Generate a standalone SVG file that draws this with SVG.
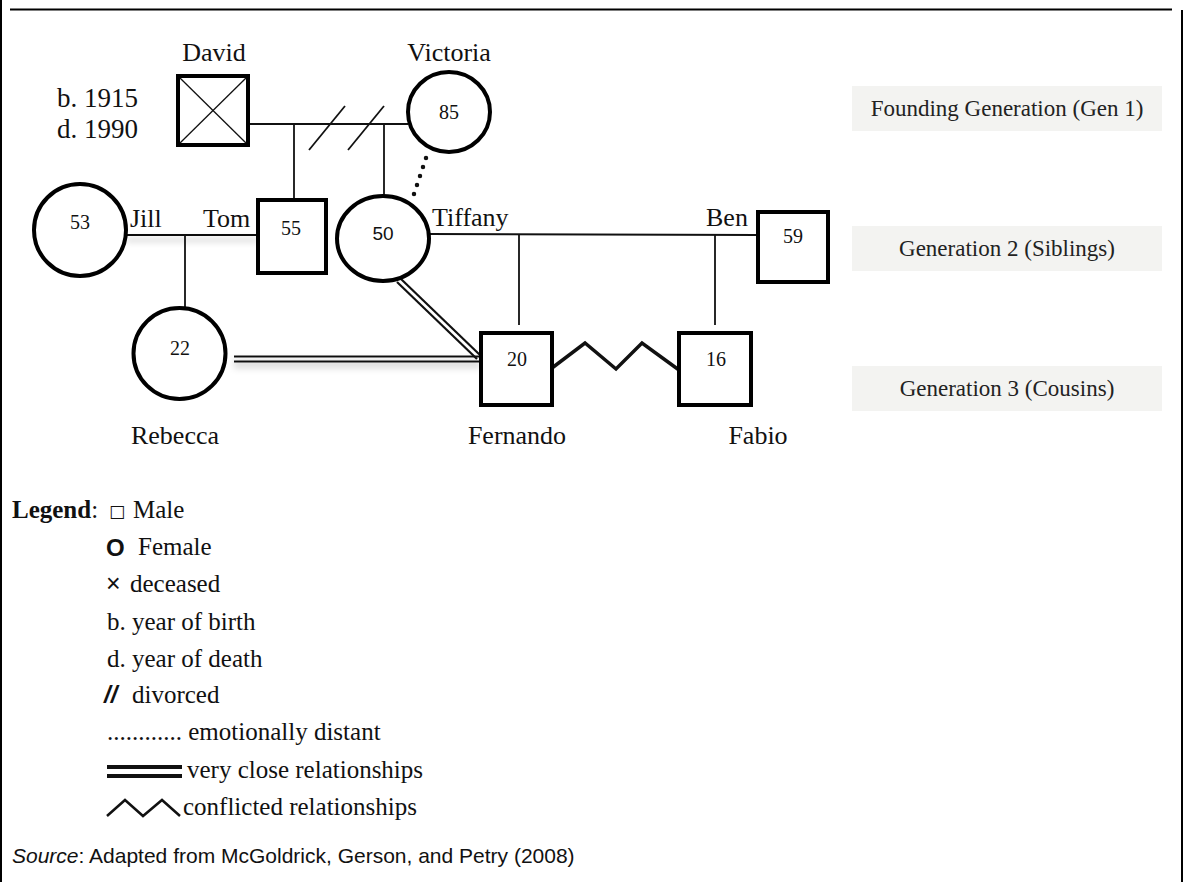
<svg xmlns="http://www.w3.org/2000/svg" width="1184" height="882" viewBox="0 0 1184 882">
  <style>
    .frame { stroke: #000; stroke-width: 2; fill: none; }
    .person { fill: #fff; stroke: #000; stroke-width: 4; }
    .lbl { font-family: "Liberation Serif", "Times New Roman", serif; font-size: 26px; fill: #111; }
    .dates { font-family: "Liberation Serif", "Times New Roman", serif; font-size: 27px; fill: #111; }
    .num { font-family: "Liberation Serif", "Times New Roman", serif; font-size: 20px; fill: #111; text-anchor: middle; }
    .numsans { font-family: "Liberation Sans", Arial, sans-serif; font-size: 19px; fill: #111; text-anchor: middle; }
    .ln { stroke: #111; stroke-width: 1.8; fill: none; }
    .dbl { stroke: #111; stroke-width: 2.2; fill: none; }
    .gen rect { fill: #f3f3f1; }
    .gen text { font-family: "Liberation Serif", "Times New Roman", serif; font-size: 23px; fill: #222; text-anchor: middle; }
    .leg { font-family: "Liberation Serif", "Times New Roman", serif; font-size: 25px; fill: #111; }
    .sym { font-family: "Liberation Sans", Arial, sans-serif; fill: #111; }
    .src { font-family: "Liberation Sans", Arial, sans-serif; font-size: 21px; fill: #111; }
  </style>
  <defs>
    <filter id="shadow" filterUnits="userSpaceOnUse" x="0" y="0" width="1184" height="882">
      <feDropShadow dx="0" dy="5" stdDeviation="3" flood-color="#000" flood-opacity="0.3"/>
    </filter>
  </defs>

  <!-- page frame -->
  <g id="frame">
    <line class="frame" x1="1" y1="0" x2="1" y2="882"/>
    <line class="frame" x1="1182" y1="10" x2="1182" y2="882"/>
    <line class="frame" x1="10" y1="9.5" x2="1172" y2="9.5"/>
  </g>

  <!-- relationship lines -->
  <g id="connectors">
    <!-- David / Victoria marriage, divorced -->
    <line class="ln" x1="248" y1="124" x2="408" y2="124"/>
    <line class="ln" x1="309" y1="150" x2="345" y2="106"/>
    <line class="ln" x1="348" y1="150" x2="384" y2="106"/>
    <line class="ln" x1="294" y1="124" x2="294" y2="200"/>
    <line class="ln" x1="384" y1="124" x2="384" y2="196"/>
    <!-- Victoria / Tiffany emotionally distant -->
    <line x1="426" y1="158" x2="411" y2="203" stroke="#111" stroke-width="4.5" stroke-linecap="round" stroke-dasharray="0 9.5"/>
    <!-- Jill / Tom -->
    <line class="ln" x1="126" y1="235" x2="258" y2="235" filter="url(#shadow)"/>
    <line class="ln" x1="185" y1="235" x2="185" y2="308"/>
    <!-- Tiffany / Ben -->
    <line class="ln" x1="429" y1="234" x2="758" y2="235"/>
    <line class="ln" x1="519" y1="234" x2="519" y2="325"/>
    <line class="ln" x1="715" y1="235" x2="715" y2="325"/>
    <!-- Tiffany / Fernando very close -->
    <line class="dbl" x1="397" y1="282" x2="477" y2="359"/>
    <line class="dbl" x1="401" y1="279" x2="481" y2="356"/>
    <!-- Rebecca / Fernando very close -->
    <g filter="url(#shadow)">
      <line class="dbl" x1="234" y1="356.5" x2="480" y2="356.5"/>
      <line class="dbl" x1="234" y1="361.5" x2="480" y2="361.5"/>
    </g>
    <!-- Fernando / Fabio conflicted -->
    <polyline points="552,368 585,343 616,369 642,343 679,370" fill="none" stroke="#111" stroke-width="3.5" stroke-linejoin="miter"/>
  </g>

  <!-- Generation 1 -->
  <g id="david">
    <text class="lbl" x="214" y="61" text-anchor="middle">David</text>
    <text class="dates" x="57" y="107">b. 1915</text>
    <text class="dates" x="57" y="138">d. 1990</text>
    <rect class="person" x="178" y="76" width="70" height="69"/>
    <line x1="180" y1="78" x2="246" y2="143" stroke="#111" stroke-width="1.3"/>
    <line x1="246" y1="78" x2="180" y2="143" stroke="#111" stroke-width="1.3"/>
  </g>
  <g id="victoria">
    <text class="lbl" x="449" y="61" text-anchor="middle">Victoria</text>
    <ellipse class="person" cx="449" cy="112" rx="41" ry="40" stroke-width="3.5"/>
    <text class="num" x="449" y="119">85</text>
  </g>

  <!-- Generation 2 -->
  <g id="jill">
    <ellipse class="person" cx="80" cy="230" rx="46" ry="46" stroke-width="3.5"/>
    <text class="num" x="80" y="229">53</text>
    <text class="lbl" x="130" y="227">Jill</text>
  </g>
  <g id="tom">
    <text class="lbl" x="203" y="227">Tom</text>
    <rect class="person" x="258" y="200" width="68" height="73"/>
    <text class="num" x="291" y="235">55</text>
  </g>
  <g id="tiffany">
    <ellipse class="person" cx="383" cy="238.5" rx="46" ry="42.5" stroke-width="3.5"/>
    <text class="numsans" x="383" y="240">50</text>
    <text class="lbl" x="432" y="226">Tiffany</text>
  </g>
  <g id="ben">
    <text class="lbl" x="706" y="226">Ben</text>
    <rect class="person" x="758" y="212" width="70" height="70"/>
    <text class="num" x="793" y="243">59</text>
  </g>

  <!-- Generation 3 -->
  <g id="rebecca">
    <ellipse class="person" cx="179.5" cy="353.5" rx="46" ry="45.5" stroke-width="3.5"/>
    <text class="num" x="180" y="355">22</text>
    <text class="lbl" x="175" y="444" text-anchor="middle">Rebecca</text>
  </g>
  <g id="fernando">
    <rect class="person" x="481" y="333" width="71" height="72"/>
    <text class="num" x="517" y="366">20</text>
    <text class="lbl" x="517" y="444" text-anchor="middle">Fernando</text>
  </g>
  <g id="fabio">
    <rect class="person" x="679" y="333" width="72" height="72"/>
    <text class="num" x="716" y="366">16</text>
    <text class="lbl" x="758" y="444" text-anchor="middle">Fabio</text>
  </g>

  <!-- generation labels -->
  <g id="gen1" class="gen">
    <rect x="852" y="86" width="310" height="45"/>
    <text x="1007" y="116">Founding Generation (Gen 1)</text>
  </g>
  <g id="gen2" class="gen">
    <rect x="852" y="226" width="310" height="45"/>
    <text x="1007" y="256">Generation 2 (Siblings)</text>
  </g>
  <g id="gen3" class="gen">
    <rect x="852" y="366" width="310" height="45"/>
    <text x="1007" y="396">Generation 3 (Cousins)</text>
  </g>

  <!-- legend -->
  <g id="legend">
    <text class="leg" x="12" y="518"><tspan font-weight="bold">Legend</tspan>:</text>
    <text x="109" y="517" font-family="DejaVu Sans, sans-serif" font-size="17" fill="#111">□</text>
    <text class="leg" x="133" y="518">Male</text>
    <text class="sym" x="106" y="556" font-size="24" font-weight="bold">O</text>
    <text class="leg" x="138" y="555">Female</text>
    <text class="sym" x="106" y="592" font-size="25">×</text>
    <text class="leg" x="130" y="592">deceased</text>
    <text class="leg" x="107" y="630">b. year of birth</text>
    <text class="leg" x="107" y="667">d. year of death</text>
    <text class="sym" x="104" y="703" font-size="24" font-weight="bold" font-style="italic">//</text>
    <text class="leg" x="132" y="703">divorced</text>
    <text class="leg" x="107" y="740">............ emotionally distant</text>
    <rect x="107" y="765" width="75" height="4" fill="#111"/>
    <rect x="107" y="774" width="75" height="4" fill="#111"/>
    <text class="leg" x="187" y="778">very close relationships</text>
    <polyline points="107,816 125,800 143,816 162,800 180,816" fill="none" stroke="#111" stroke-width="2.5"/>
    <text class="leg" x="183" y="815">conflicted relationships</text>
  </g>

  <!-- source line -->
  <text class="src" x="12" y="863"><tspan font-style="italic">Source</tspan>: Adapted from McGoldrick, Gerson, and Petry (2008)</text>
</svg>
